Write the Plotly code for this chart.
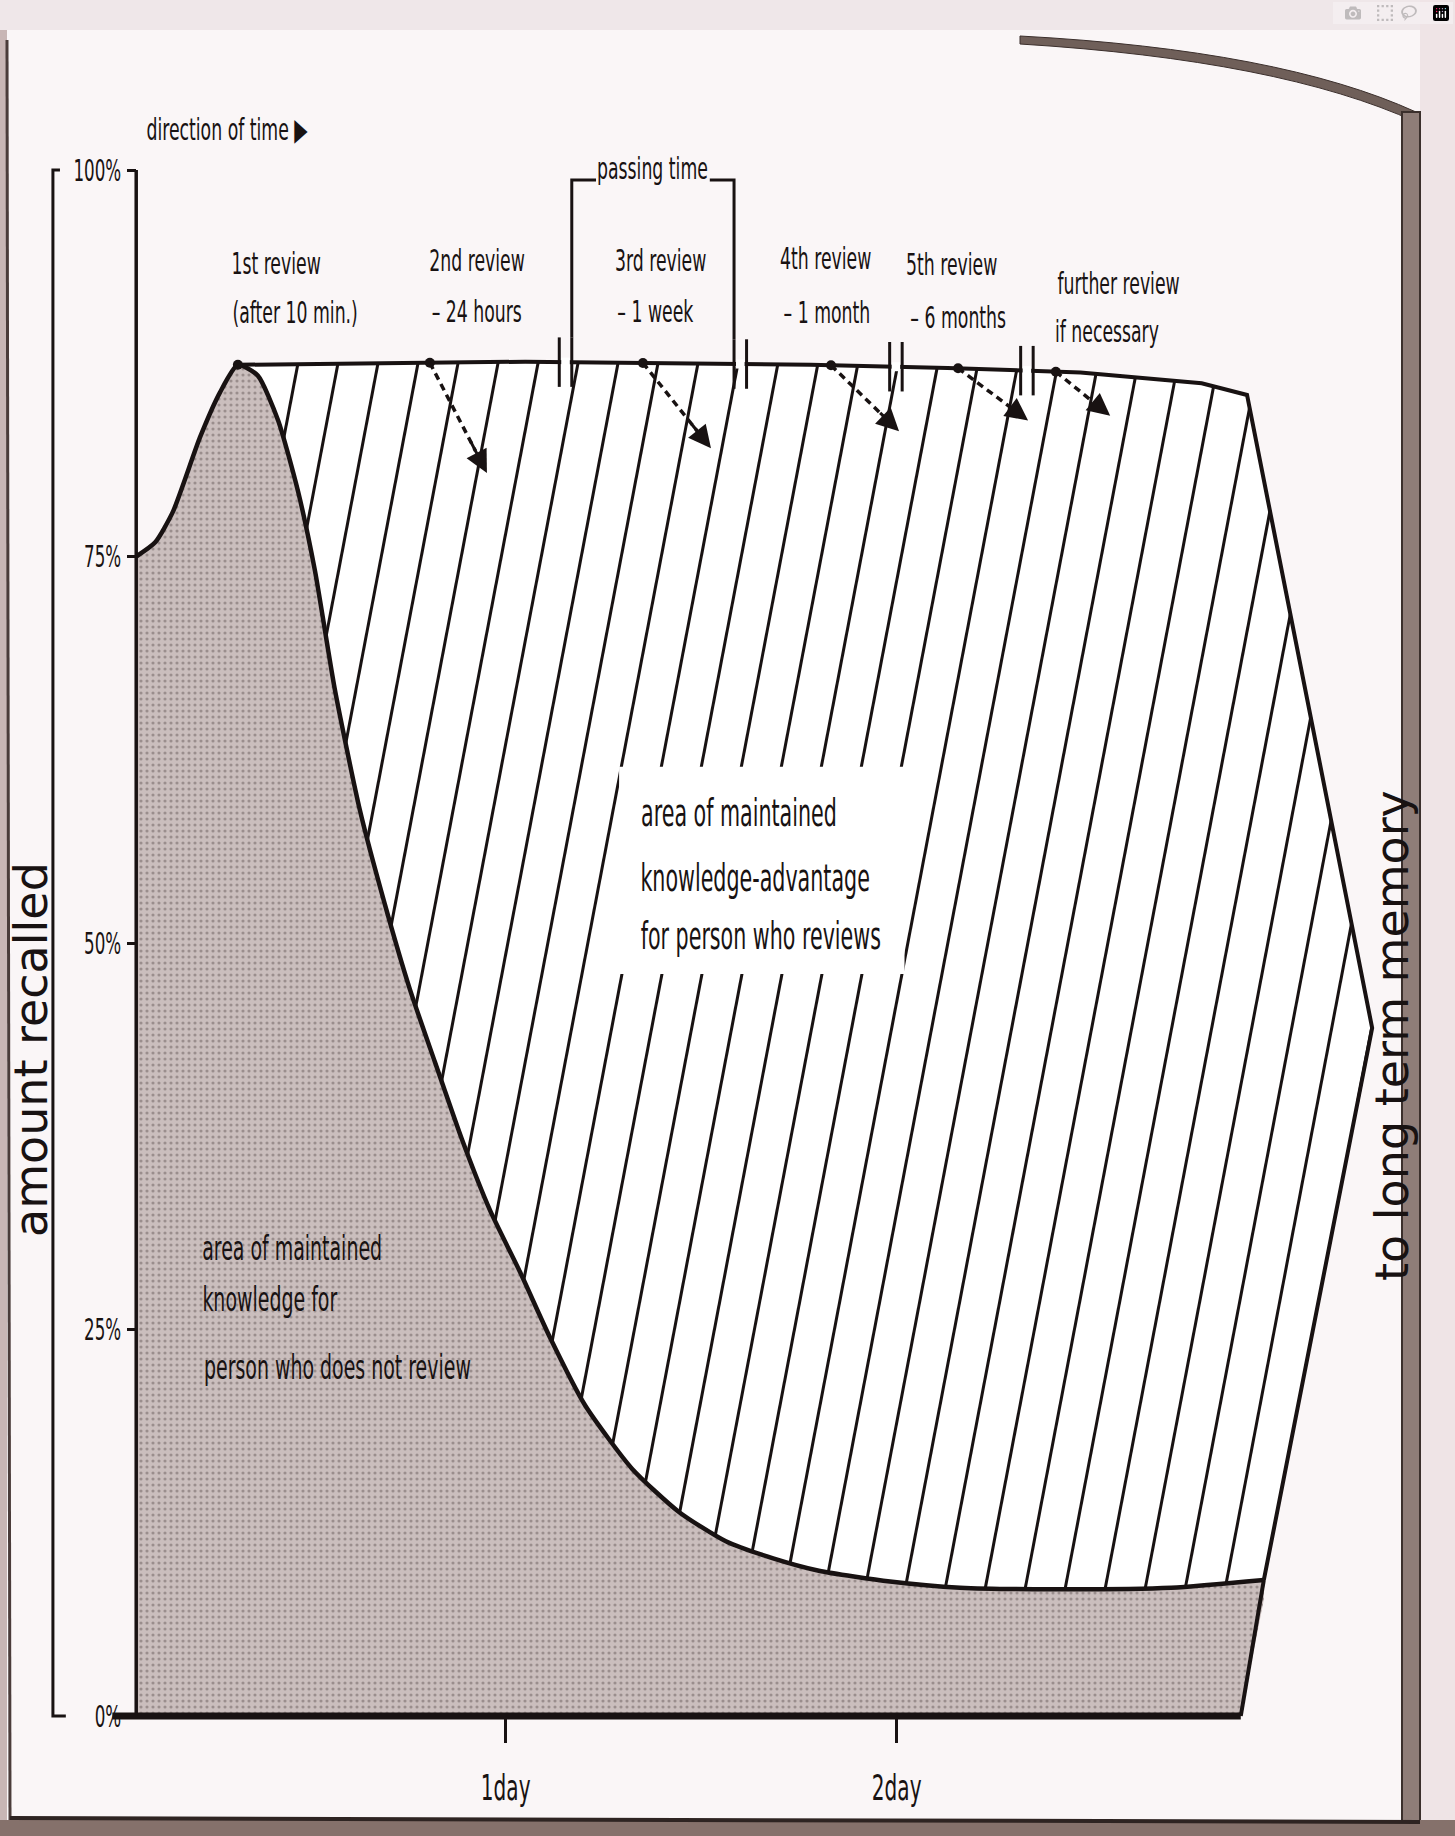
import numpy as np
import plotly.graph_objects as go

W, H = 1455, 1836

# ---------------- data (x in days, y in % recalled) ----------------
curve_day = [0.055, 0.103, 0.149, 0.218, 0.269, 0.315, 0.366, 0.418, 0.469, 0.512,
             0.563, 0.627, 0.691, 0.755, 0.819, 0.888, 0.960, 1.037, 1.113, 1.203,
             1.323, 1.443, 1.563, 1.684, 1.801, 1.983, 2.162, 2.402, 2.702, 2.939]
curve_pct = [75.0, 75.9, 77.9, 82.7, 85.6, 87.4, 86.7, 83.8, 79.2, 74.1,
             66.4, 58.6, 52.5, 47.0, 42.3, 37.3, 32.7, 28.7, 24.5, 20.1,
             16.0, 13.2, 11.3, 10.2, 9.4, 8.7, 8.3, 8.2, 8.3, 8.8]

top_day = [0.315, 1.05, 1.78, 2.13, 2.47, 2.78, 2.896]
top_pct = [87.4, 87.6, 87.4, 87.2, 86.9, 86.2, 85.45]

tip_day, tip_pct = 3.216, 44.5          # right point of the "to long term memory" wedge
gray_end_day = 2.88                     # bottom right corner of the grey area

review_day = [0.315, 0.806, 1.351, 1.832, 2.157, 2.407]
arrow_tip_day = [0.952, 1.525, 2.006, 2.336, 2.546]
arrow_tip_pct = [80.4, 82.0, 83.1, 83.8, 84.1]

break_day = [1.153, 1.600, 1.998, 2.333]

label_l1 = ["1st review", "2nd review", "3rd review", "4th review", "5th review", "further review"]
label_l2 = ["(after 10 min.)", "– 24 hours", "– 1 week", "– 1 month", "– 6 months", "if necessary"]
label_x1 = [0.412, 0.927, 1.395, 1.819, 2.141, 2.568]
label_x2 = [0.461, 0.927, 1.384, 1.822, 2.157, 2.538]
label_y1 = [94.0, 94.2, 94.2, 94.3, 93.9, 92.7]
label_y2 = [90.8, 90.9, 90.9, 90.8, 90.5, 89.6]

adv_text = ["area of maintained", "knowledge-advantage", "for person who reviews"]
adv_x = [1.597, 1.638, 1.653]
adv_y = [58.4, 54.2, 50.4]
noreview_text = ["area of maintained", "knowledge for", "person who does not review"]
noreview_x = [0.454, 0.398, 0.570]
noreview_y = [30.3, 27.0, 22.6]

y_ticks = [0, 25, 50, 75, 100]
y_ticktext = ["0%", "25%", "50%", "75%", "100%"]
x_ticks = [1, 2]
x_ticktext = ["1day", "2day"]

axis_day = 0.055
bracket_day = -0.158

# ---------------- layout constants ----------------
X0PX, PXDAY = 114.7, 391.0
Y0PX, PXPCT = 1716.0, 15.46
xr = [-X0PX / PXDAY, (W - X0PX) / PXDAY]
yr = [(Y0PX - H) / PXPCT, Y0PX / PXPCT]

COND = "DejaVu Sans Condensed, DejaVu Sans, sans-serif"
INK = "#181212"
PAGE = "#faf6f7"


def px(x):
    return x / W


def py(y):
    return 1 - y / H


fig = go.Figure()

# grey area (person who does not review)
fig.add_trace(go.Scatter(
    x=curve_day, y=curve_pct, mode="lines", line=dict(width=0, shape="spline", smoothing=0.6),
    fill="tozeroy", fillcolor="#c9bdbc",
    fillpattern=dict(shape=".", bgcolor="#cabebd", fgcolor="#6a5e5e", size=6, solidity=0.22),
    hoverinfo="skip", showlegend=False))
# slanted right edge of grey area
fig.add_trace(go.Scatter(
    x=[gray_end_day, curve_day[-1] + 0.01, curve_day[-1] + 0.01, gray_end_day],
    y=[0, 0, curve_pct[-1], 0], mode="lines", line=dict(width=0), fill="toself",
    fillcolor=PAGE, hoverinfo="skip", showlegend=False))

# hatched region polygon (reviewer advantage)
peak_i = int(np.argmax(curve_pct))
poly = list(zip(top_day, top_pct)) + [(tip_day, tip_pct)] + \
    list(zip(curve_day[peak_i:], curve_pct[peak_i:]))[::-1]
fig.add_trace(go.Scatter(x=[p[0] for p in poly], y=[p[1] for p in poly], mode="lines",
                         line=dict(width=0), fill="toself", fillcolor="#ffffff",
                         hoverinfo="skip", showlegend=False))

k = 0.19 * PXPCT / PXDAY      # hatch slant: days per %
spacing = 40.0 / PXDAY
d_start = 0.4688 - k * 87.5
hx, hy = [], []
for n in range(40):
    d0 = d_start + n * spacing
    ys = []
    m = len(poly)
    for i in range(m):
        x1, y1 = poly[i]
        x2, y2 = poly[(i + 1) % m]
        f1 = x1 - (d0 + k * y1)
        f2 = x2 - (d0 + k * y2)
        if (f1 > 0) != (f2 > 0):
            t = f1 / (f1 - f2)
            ys.append(y1 + t * (y2 - y1))
    ys.sort()
    for j in range(0, len(ys) - 1, 2):
        ya, yb = ys[j], ys[j + 1]
        hx += [d0 + k * ya, d0 + k * yb, None]
        hy += [ya, yb, None]
fig.add_trace(go.Scatter(x=hx, y=hy, mode="lines", line=dict(color=INK, width=3),
                         hoverinfo="skip", showlegend=False))

# curve outline
fig.add_trace(go.Scatter(x=curve_day, y=curve_pct, mode="lines",
                         line=dict(color=INK, width=4.5, shape="spline", smoothing=0.6),
                         hoverinfo="skip", showlegend=False))
# top line + wedge
fig.add_trace(go.Scatter(x=top_day + [tip_day, curve_day[-1]], y=top_pct + [tip_pct, curve_pct[-1]],
                         mode="lines", line=dict(color=INK, width=4),
                         hoverinfo="skip", showlegend=False))
# grey right edge
fig.add_trace(go.Scatter(x=[curve_day[-1], gray_end_day], y=[curve_pct[-1], 0], mode="lines",
                         line=dict(color=INK, width=4), hoverinfo="skip", showlegend=False))
# x axis line and y axis line, left bracket
fig.add_trace(go.Scatter(x=[-0.006, gray_end_day], y=[0, 0], mode="lines",
                         line=dict(color=INK, width=7), hoverinfo="skip", showlegend=False))
fig.add_trace(go.Scatter(x=[axis_day, axis_day], y=[0, 100], mode="lines",
                         line=dict(color=INK, width=3.5), hoverinfo="skip", showlegend=False))
fig.add_trace(go.Scatter(x=[bracket_day + 0.018, bracket_day, bracket_day, bracket_day + 0.033],
                         y=[100, 100, 0, 0], mode="lines",
                         line=dict(color=INK, width=3), hoverinfo="skip", showlegend=False))

# breaks in the top line
gx, gy, bx, by = [], [], [], []
for c in break_day:
    yt = float(np.interp(c, top_day, top_pct))
    gx += [c - 0.011, c + 0.011, None]
    gy += [yt, yt, None]
    for s in (-0.016, 0.016):
        bx += [c + s, c + s, None]
        by += [yt + 1.6, yt - 1.6, None]
fig.add_trace(go.Scatter(x=gx, y=gy, mode="lines", line=dict(color="#ffffff", width=9),
                         hoverinfo="skip", showlegend=False))
fig.add_trace(go.Scatter(x=bx, y=by, mode="lines", line=dict(color=INK, width=3),
                         hoverinfo="skip", showlegend=False))

# "passing time" bracket
l_br = break_day[0] + 0.016
r_br = break_day[1] - 0.016
yl = float(np.interp(l_br, top_day, top_pct))
yrr = float(np.interp(r_br, top_day, top_pct))
fig.add_trace(go.Scatter(
    x=[l_br, l_br, l_br + 0.062, None, r_br - 0.062, r_br, r_br],
    y=[yl + 1.6, 99.35, 99.35, None, 99.35, 99.35, yrr + 1.6],
    mode="lines", line=dict(color=INK, width=3), hoverinfo="skip", showlegend=False))

# review points
rev_pct = [float(np.interp(d, top_day, top_pct)) for d in review_day]
fig.add_trace(go.Scatter(x=review_day, y=rev_pct, mode="markers",
                         marker=dict(color=INK, size=10), hoverinfo="skip", showlegend=False))

# dashed arrows
ax_, ay_ = [], []
for i in range(len(arrow_tip_day)):
    sx, sy = review_day[i + 1], rev_pct[i + 1]
    tx, ty = arrow_tip_day[i], arrow_tip_pct[i]
    ax_ += [sx, sx + 0.8 * (tx - sx), None]
    ay_ += [sy, sy + 0.8 * (ty - sy), None]
fig.add_trace(go.Scatter(x=ax_, y=ay_, mode="lines", line=dict(color=INK, width=3.5, dash="7px,5px"),
                         hoverinfo="skip", showlegend=False))

annotations = []
for i in range(len(arrow_tip_day)):
    sx, sy = review_day[i + 1], rev_pct[i + 1]
    tx, ty = arrow_tip_day[i], arrow_tip_pct[i]
    annotations.append(dict(x=tx, y=ty, ax=tx - 0.3 * (tx - sx), ay=ty - 0.3 * (ty - sy),
                            xref="x", yref="y", axref="x", ayref="y", text="", showarrow=True,
                            arrowhead=2, arrowsize=1.5, arrowwidth=3, arrowcolor=INK))


def ann(x, y, text, size, xref="x", yref="y", **kw):
    d = dict(x=x, y=y, xref=xref, yref=yref, text=text, showarrow=False,
             xanchor="center", yanchor="middle",
             font=dict(family=COND, size=size, color=INK))
    d.update(kw)
    return d


# review labels
for i in range(len(label_l1)):
    annotations.append(ann(label_x1[i], label_y1[i], label_l1[i], 31))
    annotations.append(ann(label_x2[i], label_y2[i], label_l2[i], 31))

annotations.append(ann(0.288, 102.65, "direction of time ▶", 31))
annotations.append(ann((l_br + r_br) / 2, 100.1, "passing time", 31))

for txt, xx, yy in zip(adv_text, adv_x, adv_y):
    annotations.append(ann(xx, yy, txt, 37))
for txt, xx, yy in zip(noreview_text, noreview_x, noreview_y):
    annotations.append(ann(xx, yy, txt, 34))

annotations.append(dict(x=px(1392), y=py(1036), xref="paper", yref="paper", text="to long term memory",
                        showarrow=False, textangle=-90, xanchor="center", yanchor="middle",
                        font=dict(family="DejaVu Sans, sans-serif", size=46, color=INK)))
annotations.append(dict(x=px(31), y=py(1050), xref="paper", yref="paper", text="amount recalled",
                        showarrow=False, textangle=-90, xanchor="center", yanchor="middle",
                        font=dict(family="DejaVu Sans, sans-serif", size=46, color=INK)))

# scan / page decorations
shapes = [
    dict(type="rect", xref="paper", yref="paper", x0=0, x1=px(7), y0=0, y1=1,
         fillcolor="#c8b6b5", line=dict(width=0), layer="below"),
    dict(type="line", xref="paper", yref="paper", x0=px(7), x1=px(10), y0=py(40), y1=py(1820),
         line=dict(color="#4a3c3a", width=3), layer="below"),
    dict(type="rect", xref="paper", yref="paper", x0=0, x1=1, y0=py(30), y1=1,
         fillcolor="#efe7e9", line=dict(width=0), layer="below"),
    dict(type="path", xref="paper", yref="paper",
         path=f"M {px(1020)},{py(36)} Q {px(1280)},{py(50)} {px(1416)},{py(112)} "
              f"L {px(1416)},{py(122)} Q {px(1280)},{py(60)} {px(1020)},{py(44)} Z",
         fillcolor="#6f5f59", line=dict(color="#3b2f2c", width=1), layer="below"),
    dict(type="rect", xref="paper", yref="paper", x0=px(1420), x1=1, y0=0, y1=1,
         fillcolor="#efe4e6", line=dict(width=0), layer="below"),
    dict(type="rect", xref="paper", yref="paper", x0=px(1402), x1=px(1420), y0=py(1822), y1=py(112),
         fillcolor="#8f7d78", line=dict(color="#3b2f2c", width=2), layer="below"),
    dict(type="rect", xref="paper", yref="paper", x0=0, x1=1, y0=0, y1=py(1820),
         fillcolor="#85716b", line=dict(width=0), layer="below"),
    dict(type="line", xref="paper", yref="paper", x0=px(10), x1=px(1420), y0=py(1818), y1=py(1822),
         line=dict(color="#2e2422", width=4), layer="below"),
    # white box behind centre text (interrupts hatch)
    dict(type="rect", xref="x", yref="y", x0=1.290, x1=2.020, y0=48.0, y1=61.4,
         fillcolor="#ffffff", line=dict(width=0), layer="above"),
]

fig.update_layout(
    width=W, height=H, autosize=False,
    margin=dict(l=0, r=0, t=0, b=0, pad=0),
    paper_bgcolor=PAGE, plot_bgcolor="rgba(0,0,0,0)",
    showlegend=False,
    shapes=shapes, annotations=annotations,
    xaxis=dict(range=xr, showgrid=False, zeroline=False, showline=False,
               anchor="free", position=(0 - yr[0]) / (yr[1] - yr[0]),
               tickmode="array", tickvals=x_ticks, ticktext=x_ticktext,
               ticks="outside", ticklen=26, tickwidth=2.5, tickcolor=INK,
               ticklabelstandoff=14,
               tickfont=dict(family=COND, size=36, color=INK), fixedrange=True),
    yaxis=dict(range=yr, showgrid=False, zeroline=False, showline=False,
               anchor="free", position=(axis_day - xr[0]) / (xr[1] - xr[0]),
               tickmode="array", tickvals=y_ticks, ticktext=y_ticktext,
               ticks="outside", ticklen=9, tickwidth=3, tickcolor=INK,
               tickfont=dict(family=COND, size=30, color=INK), fixedrange=True),
)

# condense the narrow-typeset labels horizontally (scan uses a very condensed face)
post = """
document.body.style.margin='0';document.body.style.overflow='hidden';
document.querySelectorAll('text').forEach(function(el){
  var ff = (el.style && el.style.fontFamily) || '';
  if (ff.indexOf('Condensed') < 0) return;
  var x = parseFloat(el.getAttribute('x')) || 0;
  var t = el.getAttribute('transform') || '';
  el.setAttribute('transform', t + ' translate(' + x + ',0) scale(0.62,1) translate(' + (-x) + ',0)');
});
"""
fig.write_html("out.html", post_script=post)
